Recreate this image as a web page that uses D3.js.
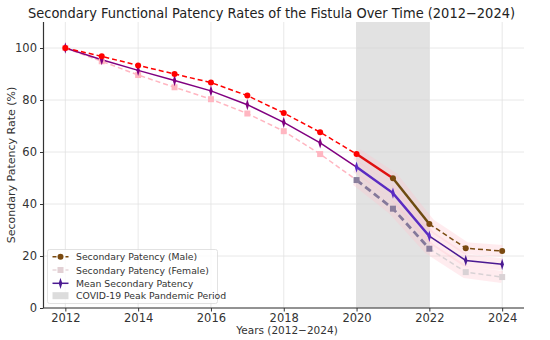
<!DOCTYPE html>
<html><head><meta charset="utf-8">
<script src="https://cdn.jsdelivr.net/npm/d3@7"></script>
<style>body{margin:0;background:#fff}svg{font-family:"DejaVu Sans",sans-serif}</style>
</head><body><svg id="c" width="550" height="340"></svg>
<script>
const years = [2012,2013,2014,2015,2016,2017,2018,2019,2020,2021,2022,2023,2024];
const male   = [100,96.8,93.3,90,86.7,81.7,75,67.6,59.2,49.9,32.3,23,21.9];
const female = [100,94.9,89.6,84.9,80.3,74.8,68,59.2,49.2,38.2,22.8,13.8,11.9];
const mean   = [100,95.5,91.4,87.5,83.5,78.2,71.4,63.5,54.2,44.2,27.6,18.3,16.8];
const xTicks = [2012,2014,2016,2018,2020,2022,2024];
const yTicks = [0,20,40,60,80,100];
const covid = [2020,2022];
const legendLabels = ["Secondary Patency (Male)","Secondary Patency (Female)","Mean Secondary Patency","COVID-19 Peak Pandemic Period"];

const svg = d3.select("#c");
const L=43.5, R=524, T=22, B=308;
const x = d3.scaleLinear().domain([2011.4,2024.6]).range([L,R]);
const y = d3.scaleLinear().domain([0,110]).range([B,T]);

// title
svg.append("text").attr("x",28).attr("y",18).attr("textLength",487).attr("lengthAdjust","spacingAndGlyphs")
  .attr("font-size",14).attr("fill","#222").text("Secondary Functional Patency Rates of the Fistula Over Time (2012\u22122024)");

// grid
const g = svg.append("g");
g.selectAll(".gx").data(xTicks).join("line").attr("x1",d=>x(d)).attr("x2",d=>x(d)).attr("y1",T).attr("y2",B)
  .attr("stroke","#e2e2e2").attr("stroke-width",0.8);
g.selectAll(".gy").data(yTicks).join("line").attr("y1",d=>y(d)).attr("y2",d=>y(d)).attr("x1",L).attr("x2",R)
  .attr("stroke","#e2e2e2").attr("stroke-width",0.8);

// covid shade
svg.append("rect").attr("x",x(covid[0])).attr("width",x(covid[1])-x(covid[0])).attr("y",T).attr("height",B-T)
  .attr("fill","#d3d3d3").attr("opacity",0.65);

const line = d3.line().x(d=>x(d[0])).y(d=>y(d[1]));
function pts(arr,i0,i1){return years.slice(i0,i1+1).map((yr,k)=>[yr,arr[i0+k]]);}

// pink glow
[male,female,mean].forEach(arr=>{
  svg.append("path").attr("d",line(pts(arr,8,12))).attr("fill","none").attr("stroke","#ffc0cb")
    .attr("stroke-width",12).attr("opacity",0.3).attr("stroke-linejoin","miter");
});

function seg(arr,i0,i1,color,w,dash,op){
  svg.append("path").attr("d",line(pts(arr,i0,i1))).attr("fill","none").attr("stroke",color)
    .attr("stroke-width",w).attr("stroke-dasharray",dash||null).attr("opacity",op||1);
}
// female
seg(female,0,8,"#ffb6c1",1.5,"5,3");
seg(female,8,10,"#84789a",2.8,"7,4");
seg(female,10,12,"#d9d2d5",1.5,"5,3");
// mean
seg(mean,0,8,"#800080",1.5);
seg(mean,8,10,"#5b2bc2",2.5);
seg(mean,10,12,"#4b1a92",1.5);
// male
seg(male,0,8,"#ff0000",1.5,"5,3");
seg(male,8,9,"#e01010",2.5);
seg(male,9,10,"#6e4a10",2.5);
seg(male,10,12,"#7a4a10",1.5,"5,3");

// markers
const fcol = i=> i<8?"#ffb6c1":(i<=10?"#8a7e9c":"#d9d2d5");
svg.selectAll(".fm").data(female).join("rect").attr("x",(d,i)=>x(years[i])-3).attr("y",d=>y(d)-3)
  .attr("width",6).attr("height",6).attr("fill",(d,i)=>fcol(i));
const mcol = i=> i<8?"#800080":(i<=10?"#5b2bc2":"#4b1a92");
const dia = d3.symbol().type(d3.symbolDiamond).size(22);
svg.selectAll(".mm").data(mean).join("path").attr("d",dia)
  .attr("transform",(d,i)=>`translate(${x(years[i])},${y(d)}) scale(0.7,1.3)`).attr("fill",(d,i)=>mcol(i));
const ccol = i=> i<=8?"#ff0000":"#7a4a10";
svg.selectAll(".cm").data(male).join("circle").attr("cx",(d,i)=>x(years[i])).attr("cy",d=>y(d)).attr("r",3)
  .attr("fill",(d,i)=>ccol(i));

// axes
const ax = svg.append("g").attr("transform",`translate(0,${B})`)
  .call(d3.axisBottom(x).tickValues(xTicks).tickFormat(d3.format("d")).tickSize(3.5).tickPadding(2));
const ay = svg.append("g").attr("transform",`translate(${L},0)`)
  .call(d3.axisLeft(y).tickValues(yTicks).tickSize(3.5).tickPadding(3));
[ax,ay].forEach(a=>{a.select(".domain").attr("stroke","#333").attr("stroke-width",1.2);
  a.selectAll(".tick line").attr("stroke","#333");
  a.selectAll("text").attr("font-size",11.5).attr("fill","#333").attr("font-family","DejaVu Sans");});
ax.select(".domain").attr("d",`M${L},0H${R}`);
ay.select(".domain").attr("d",`M0,${T}V${B}`);

svg.append("text").attr("x",287).attr("y",334).attr("text-anchor","middle").attr("font-size",10.5)
  .attr("fill","#333").text("Years (2012\u22122024)");
svg.append("text").attr("transform",`translate(15,165) rotate(-90)`).attr("text-anchor","middle")
  .attr("font-size",11).attr("fill","#333").text("Secondary Patency Rate (%)");

// legend
const lg = svg.append("g").attr("transform","translate(47.5,249.5)");
lg.append("rect").attr("width",170).attr("height",54).attr("rx",2).attr("fill","#fff").attr("opacity",0.85)
  .attr("stroke","#ddd");
const rows=[7.2,20.5,33.8,46.2];
lg.append("line").attr("x1",5).attr("x2",21).attr("y1",rows[0]).attr("y2",rows[0]).attr("stroke","#7a4a10").attr("stroke-width",1.5).attr("stroke-dasharray","4,2.5");
lg.append("circle").attr("cx",13).attr("cy",rows[0]).attr("r",3).attr("fill","#7a4a10");
lg.append("line").attr("x1",5).attr("x2",21).attr("y1",rows[1]).attr("y2",rows[1]).attr("stroke","#e8d6da").attr("stroke-width",1.5).attr("stroke-dasharray","4,2.5");
lg.append("rect").attr("x",10).attr("y",rows[1]-3).attr("width",6).attr("height",6).attr("fill","#e2d0d4");
lg.append("line").attr("x1",5).attr("x2",21).attr("y1",rows[2]).attr("y2",rows[2]).attr("stroke","#4b1a92").attr("stroke-width",1.5);
lg.append("path").attr("d",dia).attr("transform",`translate(13,${rows[2]}) scale(0.7,1.3)`).attr("fill","#4b1a92");
lg.append("rect").attr("x",5).attr("y",rows[3]-3.5).attr("width",16).attr("height",7).attr("fill","#d3d3d3").attr("opacity",0.8);
lg.selectAll(".lt").data(legendLabels).join("text").attr("x",28.5).attr("y",(d,i)=>rows[i]+3.5)
  .attr("font-size",9.3).attr("fill","#333").text(d=>d);
</script></body></html>
